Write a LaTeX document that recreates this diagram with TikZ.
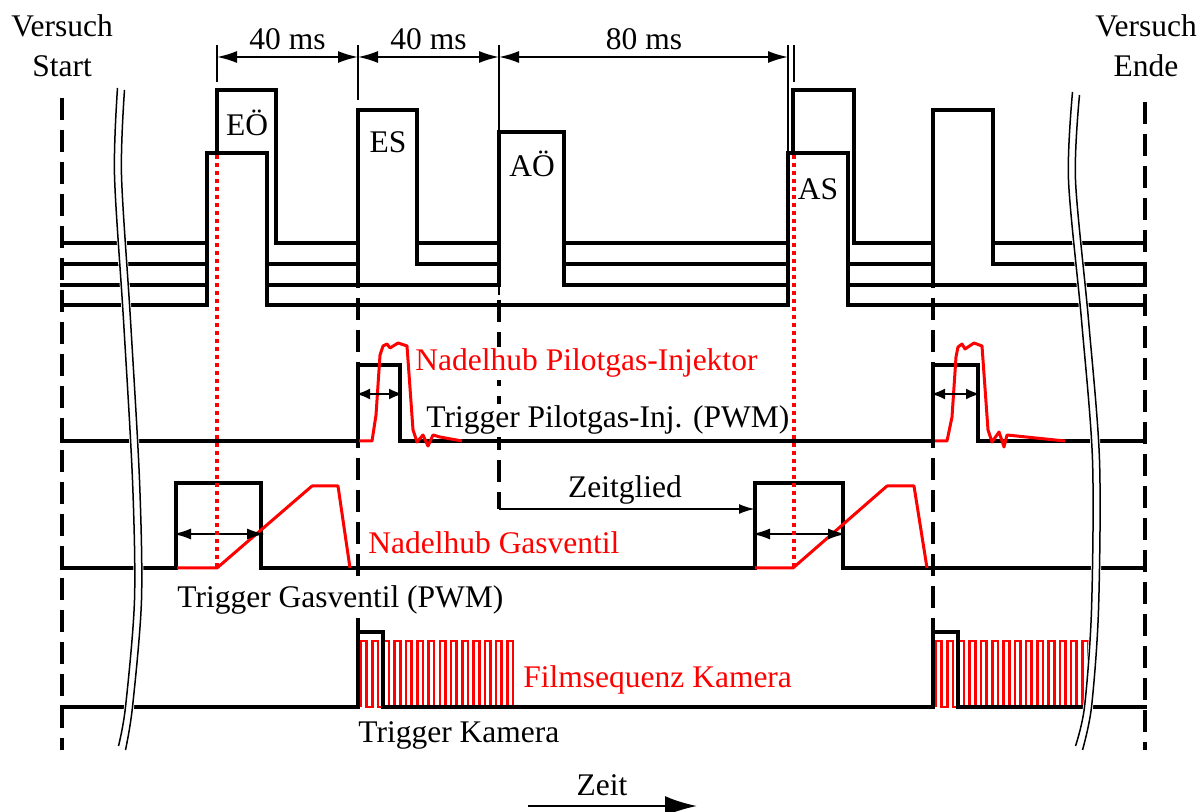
\documentclass[tikz,border=0pt]{standalone}
\usepackage{fontspec}
\setmainfont{Liberation Serif}
\usetikzlibrary{arrows.meta}
\begin{document}
\begin{tikzpicture}[x=0.5pt,y=-0.5pt,
  sig/.style={line width=2.2pt, line join=miter, line cap=rect},
  sigfill/.style={sig, fill=white},
  thinln/.style={line width=0.9pt},
  dashln/.style={line width=1.7pt, dash pattern=on 11pt off 5pt},
  reddot/.style={red, line width=1.8pt, dash pattern=on 2pt off 2pt},
  redln/.style={red, line width=1.5pt, line join=round},
  film/.style={red, line width=1.3pt},
  lbl/.style={font=\fontsize{15.75}{18}\selectfont, inner sep=0pt},
  bglbl/.style={lbl, fill=white, inner xsep=0pt, inner ysep=1pt},
  dimarrow/.style={thinln, {Latex[length=10pt,width=6pt]}-{Latex[length=10pt,width=6pt]}},
  gasarrow/.style={line width=1.1pt, {Latex[length=9pt,width=5.5pt]}-{Latex[length=9pt,width=5.5pt]}},
  pilarrow/.style={line width=1.1pt, {Latex[length=7pt,width=5.5pt]}-{Latex[length=7pt,width=5.5pt]}},
  brk/.style={line width=0.75pt}
]
\useasboundingbox (0,0) rectangle (1200,812);

% ---------- vertical guide lines (behind) ----------
\draw[dashln] (62,98) -- (62,750);
\draw[dashln] (1145,102) -- (1145,750);
\draw[dashln] (358,266) -- (358,632);
\draw[dashln] (499,300) -- (499,509);
\draw[dashln] (933,266) -- (933,632);

% ---------- valve timing lines ----------
\draw[sig] (62,243) -- (217,243) -- (217,90) -- (276,90) -- (276,243) -- (793,243) -- (793,90) -- (854,90) -- (854,243) -- (1145,243);
\draw[sigfill] (62,264) -- (358,264) -- (358,110) -- (417,110) -- (417,264) -- (933,264) -- (933,110) -- (993,110) -- (993,264) -- (1145,264);
\draw[sigfill] (62,285) -- (499,285) -- (499,132) -- (564,132) -- (564,285) -- (1145,285);
\draw[sigfill] (62,305) -- (207,305) -- (207,153) -- (267,153) -- (267,305) -- (788,305) -- (788,153) -- (848,153) -- (848,305) -- (1145,305);

% ---------- labels with white background ----------
\node[bglbl, anchor=base west, text=red] (np) at (415,371) {Nadelhub Pilotgas-Injektor};
\node[bglbl, anchor=base west] (tp) at (426,428) {Trigger Pilotgas-Inj. (PWM)};
\node[bglbl, anchor=base west] (tg) at (177,607) {Trigger Gasventil (PWM)};

% ---------- pilot gas injector ----------
\draw[sig] (62,441) -- (358,441) -- (358,365) -- (400,365) -- (400,441) -- (933,441) -- (933,365) -- (978,365) -- (978,441) -- (1145,441);
\draw[redln] (359,441) -- (372,441) -- (376,415) -- (380,355) -- (383,346) -- (387,344) -- (390,348) -- (398,343) -- (407,346) -- (413,430) -- (417,442) -- (423,435) -- (428,446) -- (433,435) -- (440,437) -- (462,441);
\draw[redln] (935,441) -- (947,441) -- (952,417) -- (956,357) -- (958,347) -- (962,344) -- (965,349) -- (974,343) -- (982,346) -- (988,430) -- (992,442) -- (999,432) -- (1004,447) -- (1007,435) -- (1065,441);
\draw[pilarrow] (356,394) -- (403,394);
\draw[pilarrow] (931,394) -- (980,394);

% ---------- gas valve ----------
\draw[sig] (62,568) -- (176,568) -- (176,483) -- (261,483) -- (261,568) -- (755,568) -- (755,483) -- (843,483) -- (843,568) -- (1145,568);
\draw[redln] (177,568) -- (217,568) -- (312,486) -- (338,486) -- (350,568);
\draw[redln] (755,568) -- (793,568) -- (887,486) -- (914,486) -- (927,568);
\draw[gasarrow] (173,534) -- (265,534);
\draw[gasarrow] (752,534) -- (846,534);

% ---------- camera ----------
\draw[film] (361,707) \foreach \i in {0,...,13} { -- ++(0,-66) -- ++(5.63,0) -- ++(0,66) -- ++(5.63,0) };
\draw[film] (936,707) \foreach \i in {0,...,13} { -- ++(0,-66) -- ++(5.63,0) -- ++(0,66) -- ++(5.63,0) };
\draw[sig] (62,707) -- (358,707) -- (358,632) -- (383,632) -- (383,707) -- (933,707) -- (933,632) -- (958,632) -- (958,707) -- (1145,707);

% ---------- red dotted markers ----------
\draw[reddot] (217,155) -- (217,567);
\draw[reddot] (794,155) -- (794,567);

% ---------- dimension lines ----------
\draw[thinln] (217,45) -- (217,82);
\draw[thinln] (358,45) -- (358,100);
\draw[thinln] (499,45) -- (499,295);
\draw[thinln] (788,45) -- (788,153);
\draw[thinln] (794,45) -- (794,82);
\draw[dimarrow] (217,57) -- (358,57);
\draw[dimarrow] (358,57) -- (499,57);
\draw[dimarrow] (499,57) -- (788,57);

% Zeitglied
\draw[line width=1.1pt, -{Latex[length=8pt,width=5pt]}] (499,509) -- (755,509);

% ---------- breaks ----------
\draw[white, line width=5pt] plot[smooth] coordinates {(121,88) (118,175) (127,320) (136,480) (138,600) (129,707) (122,750)};
\draw[brk, xshift=-1.75pt] plot[smooth] coordinates {(121,88) (118,175) (127,320) (136,480) (138,600) (129,707) (122,746)};
\draw[brk, xshift=1.75pt] plot[smooth] coordinates {(121,90) (118,175) (127,320) (136,480) (138,600) (129,707) (122,750)};
\draw[white, line width=5pt] plot[smooth] coordinates {(1076,92) (1072,180) (1085,320) (1096,460) (1095,610) (1088,707) (1079,750)};
\draw[brk, xshift=-1.75pt] plot[smooth] coordinates {(1076,92) (1072,180) (1085,320) (1096,460) (1095,610) (1088,707) (1079,746)};
\draw[brk, xshift=1.75pt] plot[smooth] coordinates {(1076,95) (1072,180) (1085,320) (1096,460) (1095,610) (1088,707) (1079,750)};

% ---------- Zeit arrow ----------
\draw[line width=1.3pt, -{Latex[length=16pt,width=10pt]}] (528,806) -- (697,806);

% ---------- labels ----------
\node[lbl, anchor=base] (vs1) at (62,37) {Versuch};
\node[lbl, anchor=base] (vs2) at (62,77) {Start};
\node[lbl, anchor=base] (ve1) at (1146,37) {Versuch};
\node[lbl, anchor=base] (ve2) at (1146,77) {Ende};
\node[lbl, anchor=base] (d1) at (287.5,50) {40 ms};
\node[lbl, anchor=base] (d2) at (428.5,50) {40 ms};
\node[lbl, anchor=base] (d3) at (644,50) {80 ms};
\node[lbl, anchor=base] (eo) at (247,136) {EÖ};
\node[lbl, anchor=base] (es) at (388,153) {ES};
\node[lbl, anchor=base] (ao) at (532,177) {AÖ};
\node[lbl, anchor=base] (as) at (818,200) {AS};
\node[lbl, anchor=base] (zg) at (625,498) {Zeitglied};
\node[lbl, anchor=base west, text=red] (ng) at (368,553) {Nadelhub Gasventil};
\node[lbl, anchor=base west, text=red] (fk) at (523,687) {Filmsequenz Kamera};
\node[lbl, anchor=base west] (tk) at (358,742) {Trigger Kamera};
\node[lbl, anchor=base] (zt) at (602,795) {Zeit};
\end{tikzpicture}
\end{document}
